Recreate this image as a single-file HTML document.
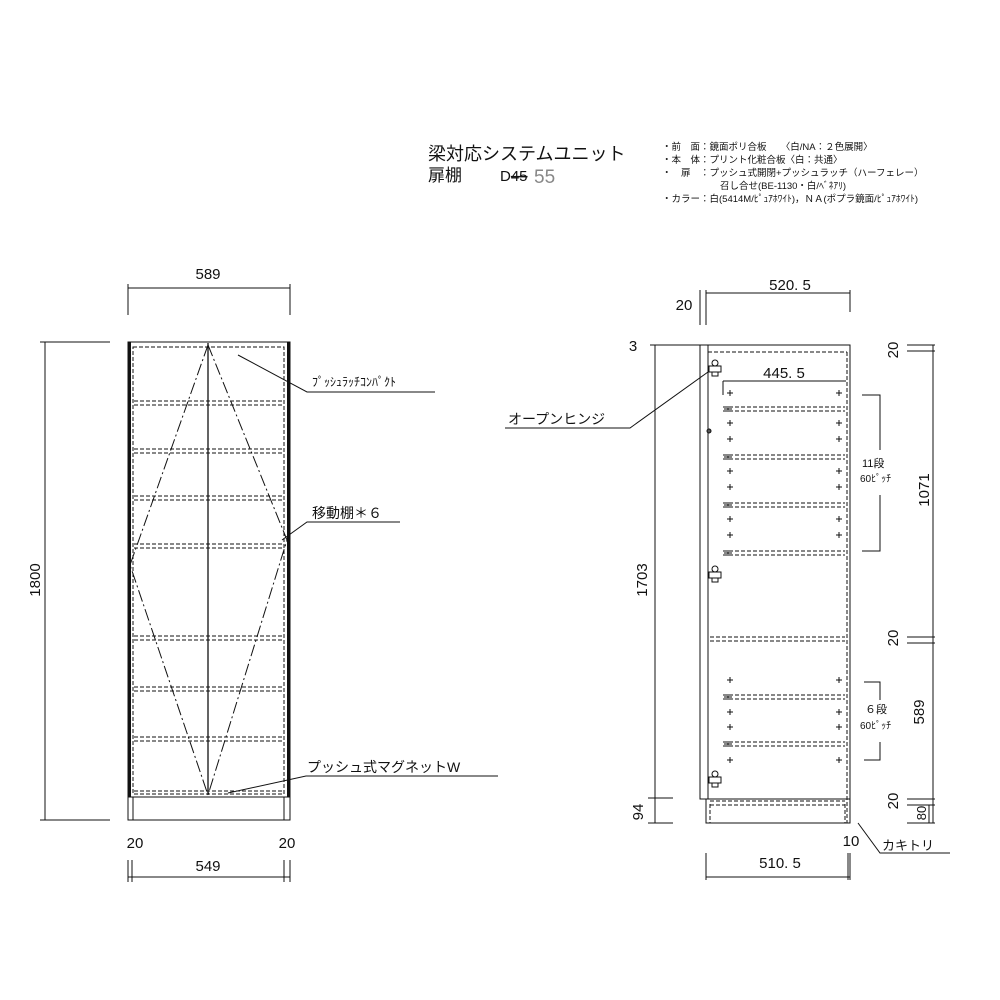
<!DOCTYPE html>
<html><head><meta charset="utf-8"><style>
html,body{margin:0;padding:0;background:#fff}
svg{display:block}
text{font-family:"Liberation Sans","Noto Sans CJK JP",sans-serif;fill:#111}
</style></head><body>
<svg width="1000" height="1000" viewBox="0 0 1000 1000" xmlns="http://www.w3.org/2000/svg">
<g stroke="#111" fill="none" stroke-width="1">
<!-- LEFT CABINET -->
<rect x="128" y="342" width="162" height="478"/>
<line x1="129.5" y1="342" x2="129.5" y2="797" stroke-width="3"/>
<line x1="288.5" y1="342" x2="288.5" y2="797" stroke-width="3"/>
<line x1="128" y1="797" x2="290" y2="797"/>
<line x1="133" y1="797" x2="133" y2="820"/>
<line x1="284" y1="797" x2="284" y2="820"/>
<line x1="208" y1="343" x2="208" y2="795" stroke-width="1.3"/>
<rect x="133" y="347" width="151" height="447" stroke-dasharray="4,2"/>
<g stroke-dasharray="4,2">
<path d="M134 401H284M134 405H284M134 449H284M134 453H284M134 496H284M134 500H284M134 544H284M134 548H284M134 636H284M134 640H284M134 687H284M134 691H284M134 737H284M134 741H284M134 791H284"/>
</g>
<g stroke-dasharray="12,3,2,3">
<path d="M208 345L130 565L208 795M208 345L287 540L208 795"/>
</g>
<!-- left dims -->
<path d="M128 284V315M290 284V315M128 288H290"/>
<path d="M40 342H110M40 820H110M45 342V820"/>
<path d="M128 860V882M132 860V882M284 860V882M290 860V882M128 877H290"/>
<!-- left labels -->
<path d="M238 355L307 392H435M282 540L307 522H400M228 793L306 776H498"/>
<!-- RIGHT CABINET -->
<path d="M700 345H850V823H706V799M700 345V799H708M708 345V799"/>
<path d="M706 799H850"/>
<g stroke-dasharray="4,2">
<path d="M708 352H847M847 352V823M710 804V823M845 804V823M710 801H845M710 805H845M710 637H845M710 641H845"/>
<path d="M723 407H845M723 411H845M723 455H845M723 459H845M723 503H845M723 507H845M723 551H845M723 555H845M723 695H845M723 699H845M723 742H845M723 746H845"/>
</g>
<g stroke-width="1">
<path d="M727 393h6M730 390v6M836 393h6M839 390v6
M727 423h6M730 420v6M836 423h6M839 420v6
M727 439h6M730 436v6M836 439h6M839 436v6
M727 471h6M730 468v6M836 471h6M839 468v6
M727 487h6M730 484v6M836 487h6M839 484v6
M727 519h6M730 516v6M836 519h6M839 516v6
M727 535h6M730 532v6M836 535h6M839 532v6
M727 680h6M730 677v6M836 680h6M839 677v6
M727 712h6M730 709v6M836 712h6M839 709v6
M727 727h6M730 724v6M836 727h6M839 724v6
M727 760h6M730 757v6M836 760h6M839 757v6
M724 409h8M728 406v6M724 457h8M728 454v6M724 505h8M728 502v6M724 553h8M728 550v6M724 697h8M728 694v6M724 744h8M728 741v6"/>
</g>
<!-- hinges -->
<g>
<circle cx="715" cy="363" r="3"/><rect x="709" y="366" width="12" height="6"/><rect x="712" y="372" width="6" height="4"/>
<circle cx="715" cy="569" r="3"/><rect x="709" y="572" width="12" height="6"/><rect x="712" y="578" width="6" height="4"/>
<circle cx="715" cy="774" r="3"/><rect x="709" y="777" width="12" height="6"/><rect x="712" y="783" width="6" height="4"/>
</g>
<circle cx="709" cy="431" r="2" fill="#555"/>
<!-- right dims -->
<path d="M723 381H846M723 381V395"/>
<path d="M700 290V325M706 290V325M850 290V312M706 293H850"/>
<path d="M650 345H700M648 798H673M648 823H673M655 345V823"/>
<path d="M933 345V823M907 345H935M907 351H935M907 637H935M907 643H935M907 799H935M907 805H935M907 823H935M929 805V823"/>
<path d="M862 395H880V450M880 495V551H862M864 682H880V700M880 742V760H864"/>
<path d="M706 853V880M848 853V880M850 853V880M706 877H850"/>
<path d="M708 372L630 428H505M858 823L880 853H950"/>
</g>
<!-- text -->
<text x="428" y="160" font-size="18">梁対応システムユニット</text>
<text x="428" y="181" font-size="17">扉棚</text>
<text x="500" y="181" font-size="15">D<tspan text-decoration="line-through">45</tspan></text>
<text x="534" y="183" font-size="19" fill="#888" style="fill:#888">55</text>
<g font-size="9.5">
<text x="662" y="150">・前　面：鏡面ポリ合板　　〈白/NA：２色展開〉</text>
<text x="662" y="163">・本　体：プリント化粧合板〈白：共通〉</text>
<text x="662" y="176">・　扉　：プッシュ式開閉+プッシュラッチ（ハーフェレー）</text>
<text x="720" y="189">召し合せ(BE-1130・白/ﾍﾞﾈｱﾘ)</text>
<text x="662" y="202">・カラー：白(5414M/ﾋﾟｭｱﾎﾜｲﾄ)，ＮＡ(ポプラ鏡面/ﾋﾟｭｱﾎﾜｲﾄ)</text>
</g>
<g font-size="15">
<text x="208" y="279" text-anchor="middle">589</text>
<text x="0" y="0" text-anchor="middle" transform="translate(40,580) rotate(-90)">1800</text>
<text x="135" y="848" text-anchor="middle">20</text>
<text x="287" y="848" text-anchor="middle">20</text>
<text x="208" y="871" text-anchor="middle">549</text>
<text x="790" y="290" text-anchor="middle">520. 5</text>
<text x="684" y="310" text-anchor="middle">20</text>
<text x="784" y="378" text-anchor="middle">445. 5</text>
<text x="633" y="351" text-anchor="middle">3</text>
<text x="0" y="0" text-anchor="middle" transform="translate(647,580) rotate(-90)">1703</text>
<text x="0" y="0" text-anchor="middle" transform="translate(643,812) rotate(-90)">94</text>
<text x="0" y="0" text-anchor="middle" transform="translate(898,350) rotate(-90)">20</text>
<text x="0" y="0" text-anchor="middle" transform="translate(929,490) rotate(-90)">1071</text>
<text x="0" y="0" text-anchor="middle" transform="translate(898,638) rotate(-90)">20</text>
<text x="0" y="0" text-anchor="middle" transform="translate(924,712) rotate(-90)">589</text>
<text x="0" y="0" text-anchor="middle" transform="translate(898,801) rotate(-90)">20</text>
<text x="0" y="0" text-anchor="middle" transform="translate(926,813) rotate(-90)" font-size="13">80</text>
<text x="851" y="846" text-anchor="middle">10</text>
<text x="780" y="868" text-anchor="middle">510. 5</text>
</g>
<text x="312" y="386" font-size="12">ﾌﾟｯｼｭﾗｯﾁｺﾝﾊﾟｸﾄ</text>
<text x="312" y="518" font-size="14">移動棚＊６</text>
<text x="307" y="772" font-size="14">プッシュ式マグネットW</text>
<text x="508" y="424" font-size="14">オープンヒンジ</text>
<text x="882" y="850" font-size="13">カキトリ</text>
<text x="862" y="467" font-size="11">11段</text>
<text x="860" y="482" font-size="10">60ﾋﾟｯﾁ</text>
<text x="865" y="713" font-size="11">６段</text>
<text x="860" y="729" font-size="10">60ﾋﾟｯﾁ</text>
</svg>
</body></html>
